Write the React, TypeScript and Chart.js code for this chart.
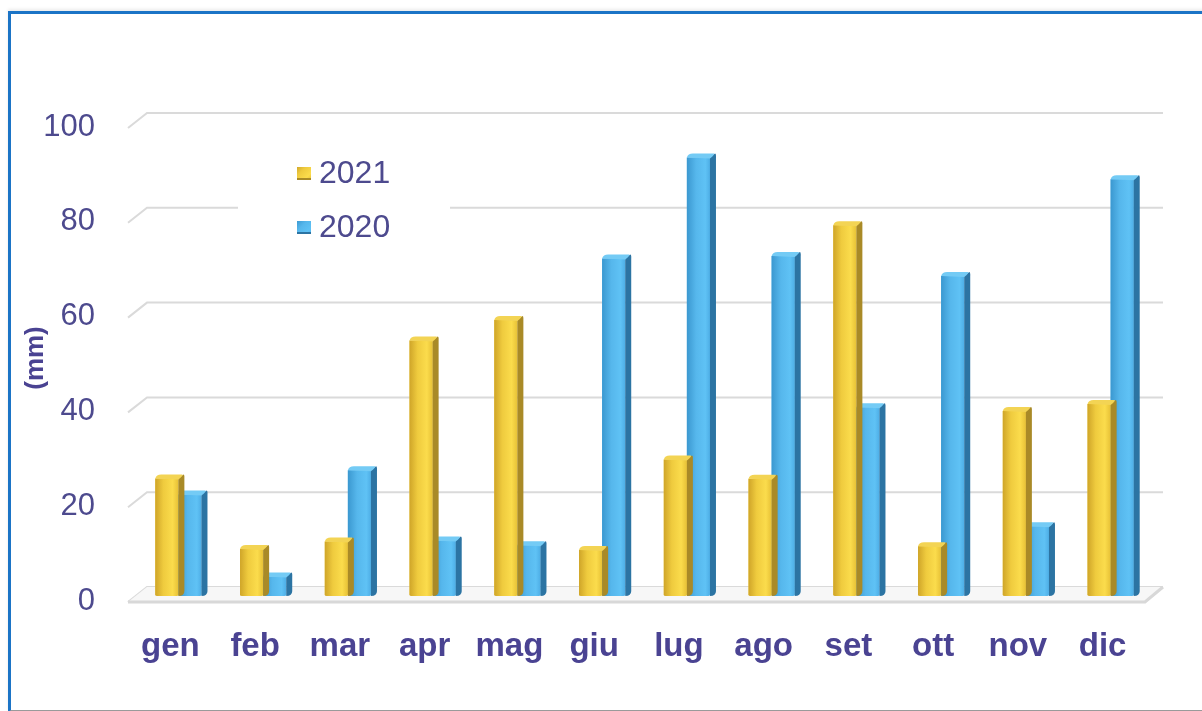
import React, { useEffect, useRef } from 'react';
import { Chart, registerables } from 'chart.js';

Chart.register(...registerables);

// Monthly rainfall (mm)
const months = ['gen', 'feb', 'mar', 'apr', 'mag', 'giu', 'lug', 'ago', 'set', 'ott', 'nov', 'dic'];
const rain2021 = [24.6, 9.7, 11.3, 53.7, 58.0, 9.5, 28.6, 24.5, 78.0, 10.3, 38.8, 40.3];
const rain2020 = [21.2, 3.9, 26.3, 11.5, 10.5, 71.0, 92.3, 71.5, 39.6, 67.3, 14.5, 87.7];
const seriesNames = ['2021', '2020'];
const yTickValues = [0, 20, 40, 60, 80, 100];
const yTitle = '(mm)';

const FONT = '"Liberation Sans", Arial, Helvetica, sans-serif';
const TEXT_COLOR = '#4d4a8e';
const LABEL_COLOR = '#4a4392';
const GRID_COLOR = '#dadada';

// Shading for the pseudo-3D prisms
const palettes = [
  {
    front: [[0, '#cfa529'], [0.35, '#efcb3e'], [0.75, '#fbdc4c'], [1, '#e7c136']],
    side: '#a98a27',
    top: '#f3d454',
    flat: '#f0cc40',
  },
  {
    front: [[0, '#3b98d0'], [0.4, '#56b7ec'], [0.8, '#5fc2f5'], [1, '#4eaee6']],
    side: '#2c74a3',
    top: '#74cbf5',
    flat: '#55b8ee',
  },
];

const DEPTH_X = 6;
const DEPTH_Y = -4;

const prismPlugin = {
  id: 'prismBars',
  afterDatasetDraw(chart: any, args: any) {
    const ctx = chart.ctx;
    const pal = palettes[args.index];
    const area = chart.chartArea;
    ctx.save();
    ctx.beginPath();
    ctx.rect(area.left - 20, 0, area.right - area.left + 60, area.bottom + 10);
    ctx.clip();
    args.meta.data.forEach((el: any) => {
      const { x, y, base, width } = el.getProps(['x', 'y', 'base', 'width'], true);
      const l = x - width / 2;
      const r = x + width / 2;
      const g = ctx.createLinearGradient(l, 0, r, 0);
      pal.front.forEach(([o, c]: any) => g.addColorStop(o, c));
      // front face
      ctx.fillStyle = g;
      ctx.beginPath();
      ctx.moveTo(l, y);
      ctx.lineTo(r, y);
      ctx.lineTo(r, base);
      ctx.quadraticCurveTo(r, base + 1, r - 2, base + 1);
      ctx.lineTo(l + 2, base + 1);
      ctx.quadraticCurveTo(l, base + 1, l, base);
      ctx.closePath();
      ctx.fill();
      // right side face
      ctx.fillStyle = pal.side;
      ctx.beginPath();
      ctx.moveTo(r, y);
      ctx.lineTo(r + DEPTH_X - 1, y + DEPTH_Y);
      ctx.quadraticCurveTo(r + DEPTH_X, y + DEPTH_Y, r + DEPTH_X, y + DEPTH_Y + 2);
      ctx.lineTo(r + DEPTH_X, base + DEPTH_Y);
      ctx.quadraticCurveTo(r + DEPTH_X, base + 1, r, base + 1);
      ctx.closePath();
      ctx.fill();
      // top face
      ctx.fillStyle = pal.top;
      ctx.beginPath();
      ctx.moveTo(l, y);
      ctx.quadraticCurveTo(l + 1, y + DEPTH_Y, l + DEPTH_X, y + DEPTH_Y);
      ctx.lineTo(r + DEPTH_X - 2, y + DEPTH_Y);
      ctx.quadraticCurveTo(r + DEPTH_X - 1, y + DEPTH_Y + 1, r, y + 1);
      ctx.closePath();
      ctx.fill();
    });
    ctx.restore();
  },
};

// Back-wall gridlines with receding floor edges, plus the inset legend
const wallPlugin = {
  id: 'wallGrid',
  beforeDatasetsDraw(chart: any) {
    const ctx = chart.ctx;
    const yScale = chart.scales.y;
    const { left, right } = chart.chartArea;
    ctx.save();
    ctx.strokeStyle = GRID_COLOR;
    ctx.lineWidth = 2;
    yTickValues.forEach((v) => {
      const py = yScale.getPixelForValue(v);
      const front = py + 7;
      const back = py - 8;
      ctx.beginPath();
      ctx.moveTo(left - 8, front);
      ctx.lineTo(left + 11, back);
      ctx.lineTo(right + 10, back);
      ctx.stroke();
      if (v === 0) {
        ctx.fillStyle = '#f7f7f7';
        ctx.beginPath();
        ctx.moveTo(left - 8, front);
        ctx.lineTo(left + 11, back);
        ctx.lineTo(right + 10, back);
        ctx.lineTo(right - 8, front);
        ctx.closePath();
        ctx.fill();
        ctx.lineWidth = 3;
        ctx.strokeStyle = '#d8d8d8';
        ctx.beginPath();
        ctx.moveTo(left - 8, front);
        ctx.lineTo(right - 8, front);
        ctx.lineTo(right + 10, back);
        ctx.stroke();
        ctx.lineWidth = 2;
        ctx.strokeStyle = GRID_COLOR;
      }
    });

    // legend
    ctx.fillStyle = '#ffffff';
    ctx.fillRect(238, 146, 212, 100);
    const rows = [
      { name: seriesNames[0], pal: palettes[0], y: 173 },
      { name: seriesNames[1], pal: palettes[1], y: 227 },
    ];
    rows.forEach(({ name, pal, y }) => {
      const g = ctx.createLinearGradient(297, y - 7, 311, y + 7);
      pal.front.forEach(([o, c]: any) => g.addColorStop(o, c));
      ctx.fillStyle = g;
      ctx.fillRect(297, y - 6, 14, 13);
      ctx.fillStyle = pal.side;
      ctx.fillRect(297, y + 5, 14, 2);
      ctx.fillStyle = TEXT_COLOR;
      ctx.font = `32px ${FONT}`;
      ctx.textAlign = 'left';
      ctx.textBaseline = 'middle';
      ctx.fillText(name, 319, y + 1);
    });
    ctx.restore();
  },
};

export default function App() {
  const canvasRef = useRef<HTMLCanvasElement | null>(null);

  useEffect(() => {
    document.body.style.margin = '0';
    const canvas = canvasRef.current;
    if (!canvas) return;
    const chart = new Chart(canvas, {
      type: 'bar',
      data: {
        labels: months,
        datasets: [
          { label: seriesNames[0], data: rain2021, backgroundColor: palettes[0].flat, borderWidth: 0 },
          { label: seriesNames[1], data: rain2020, backgroundColor: palettes[1].flat, borderWidth: 0 },
        ],
      },
      options: {
        responsive: false,
        animation: false,
        events: [],
        layout: { padding: { left: 0, top: 121, right: 49, bottom: 0 } },
        datasets: {
          bar: { categoryPercentage: 0.545, barPercentage: 1 },
        },
        plugins: {
          legend: { display: false },
          tooltip: { enabled: false },
        },
        scales: {
          x: {
            grid: { display: false, drawTicks: false },
            border: { display: false },
            ticks: {
              color: LABEL_COLOR,
              font: { family: FONT, size: 33, weight: 'bold' },
              padding: 32,
              labelOffset: -8,
              maxRotation: 0,
              autoSkip: false,
            },
            afterFit: (scale: any) => {
              scale.height = 116;
            },
          },
          y: {
            min: 0,
            max: 100,
            afterBuildTicks: (scale: any) => {
              scale.ticks = yTickValues.map((v) => ({ value: v }));
            },
            grid: { display: false, drawTicks: false },
            border: { display: false },
            ticks: {
              color: TEXT_COLOR,
              font: { family: FONT, size: 31 },
              padding: 41,
              labelOffset: 6,
            },
            title: {
              display: true,
              text: yTitle,
              color: LABEL_COLOR,
              font: { family: FONT, size: 26, weight: 'bold' },
              padding: { top: 20, bottom: 0 },
            },
            afterFit: (scale: any) => {
              scale.width = 136;
            },
          },
        },
      },
      plugins: [wallPlugin, prismPlugin],
    });
    return () => chart.destroy();
  }, []);

  return (
    <div style={{ position: 'relative', width: 1202, height: 711, background: '#ffffff', overflow: 'hidden' }}>
      <canvas ref={canvasRef} width={1202} height={711} style={{ position: 'absolute', left: 0, top: 0 }} />
      <div
        style={{
          position: 'absolute',
          left: 8,
          top: 11,
          width: 1210,
          height: 696,
          borderTop: '3px solid #1b74c6',
          borderLeft: '3px solid #1b74c6',
          borderBottom: '2px solid #9a9a9a',
          boxShadow: '0 -2px 3px rgba(0,0,0,0.08)',
          pointerEvents: 'none',
        }}
      />
    </div>
  );
}
